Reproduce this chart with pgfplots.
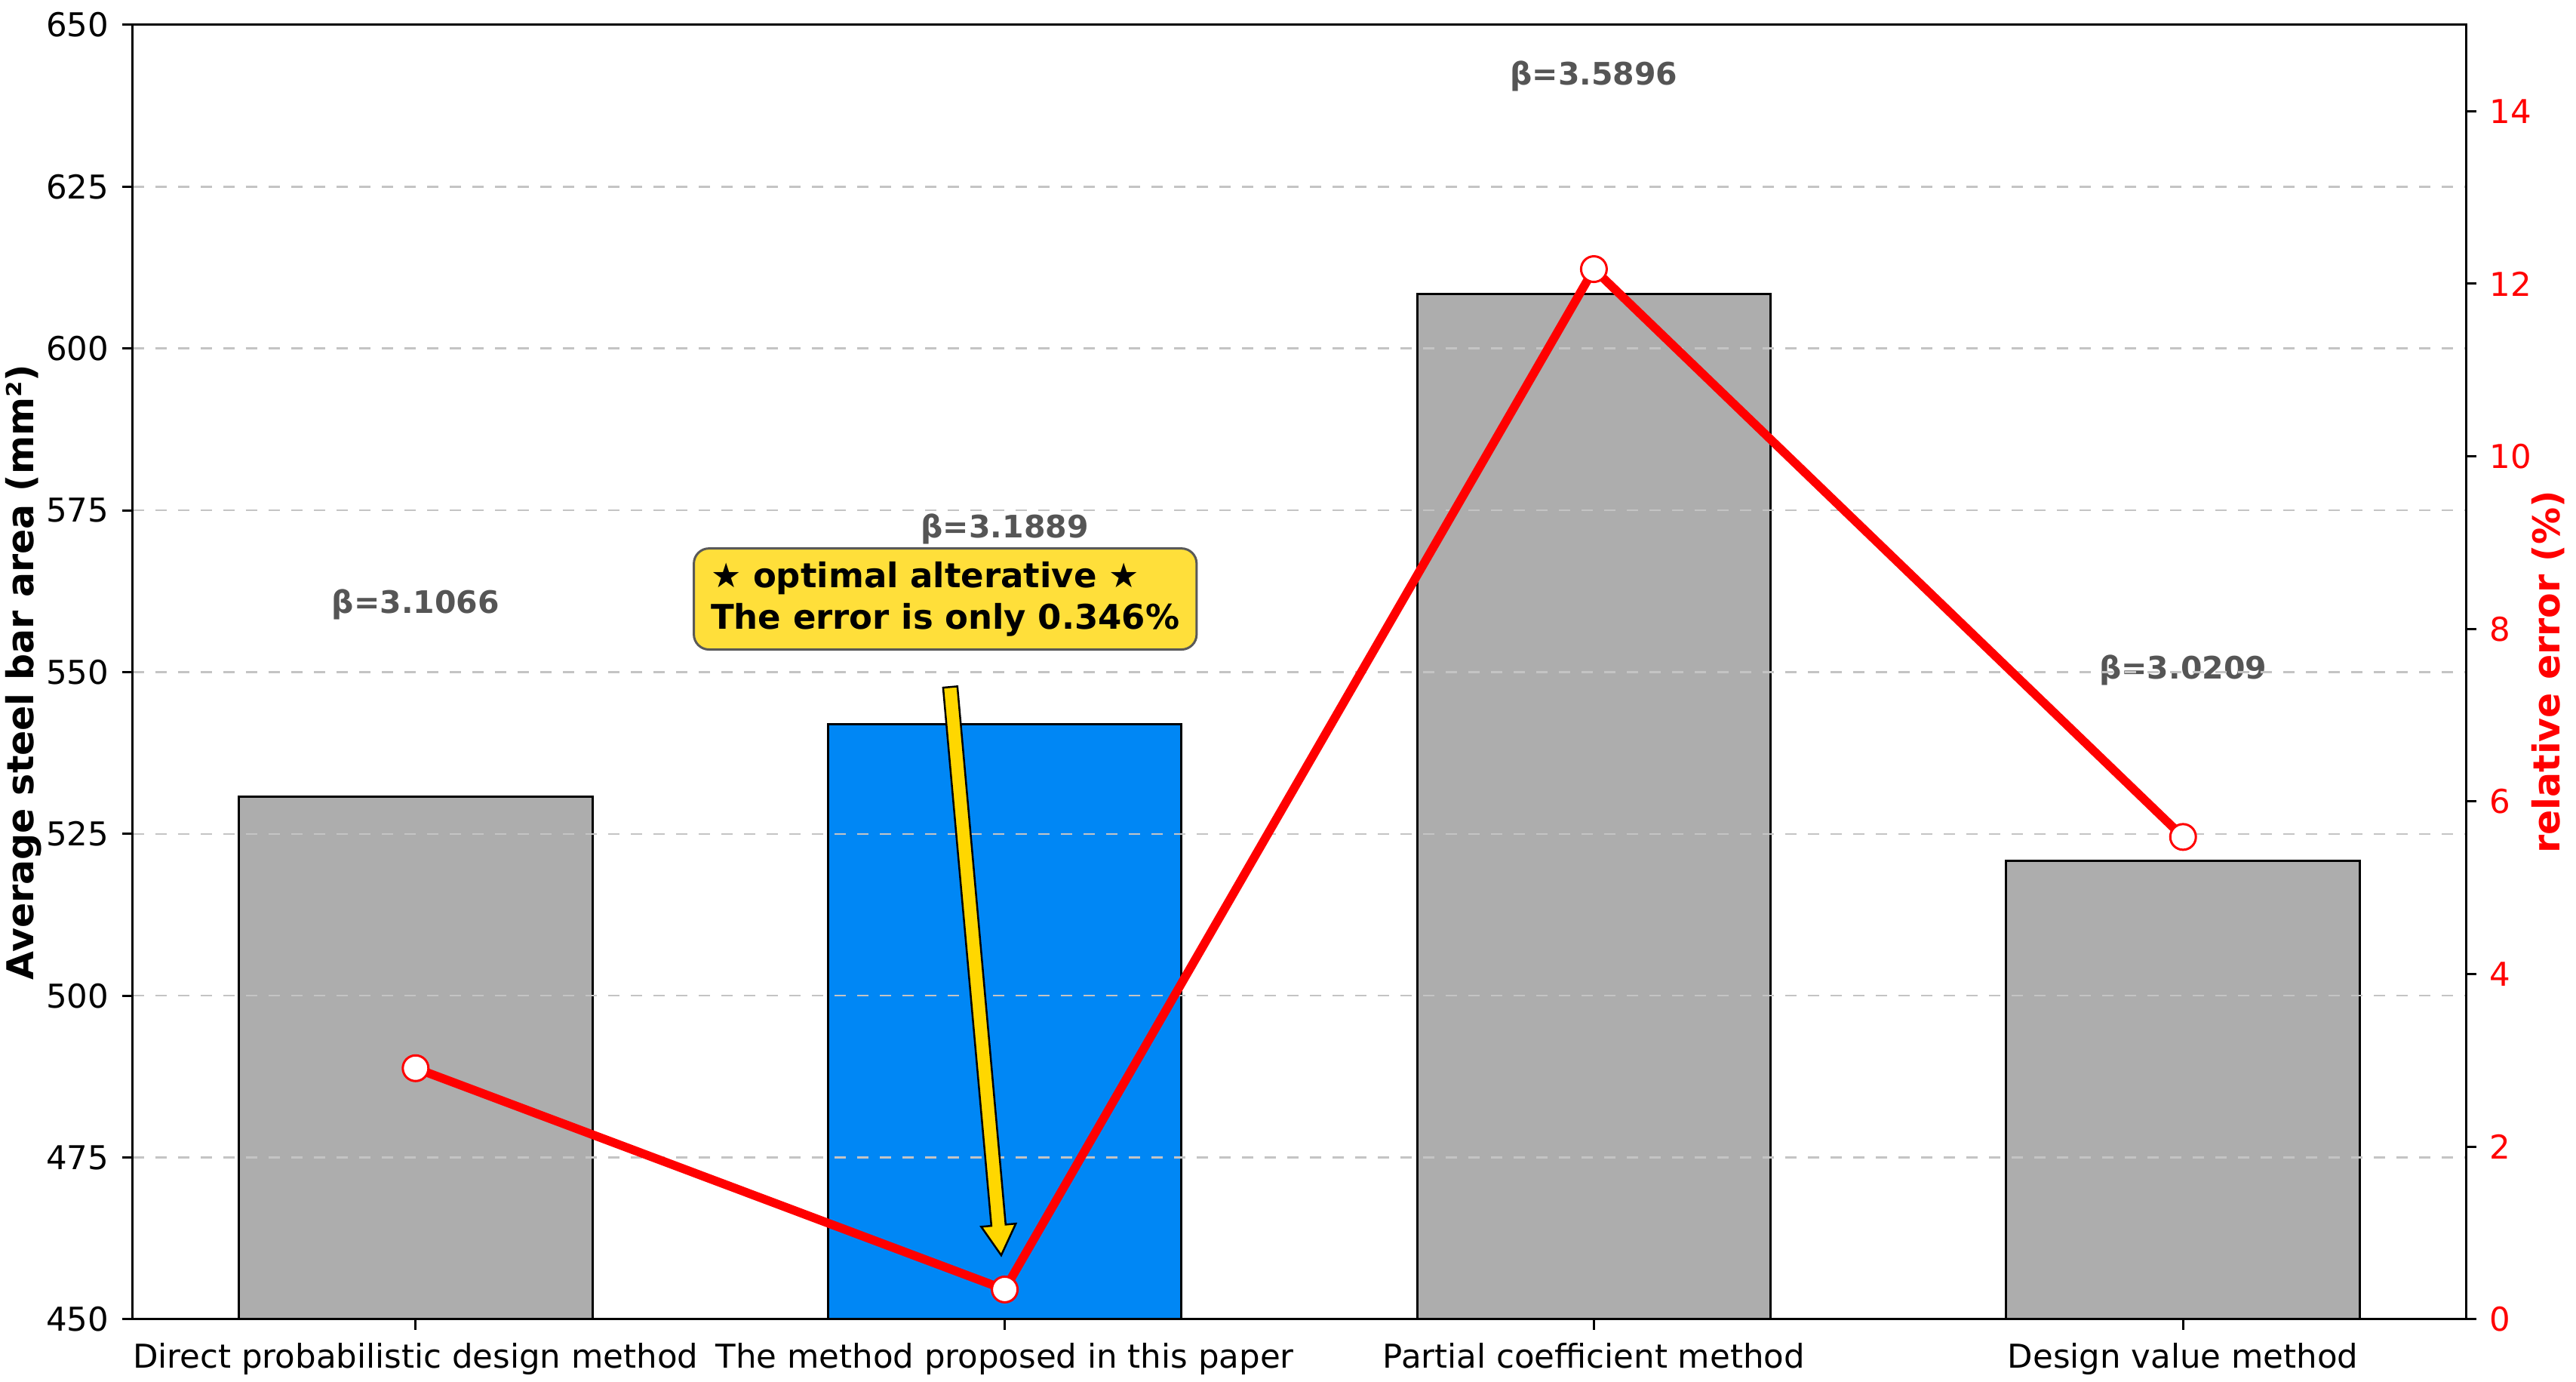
\documentclass[border=0pt]{standalone}
\usepackage{fontspec}
\setmainfont{DejaVu Sans}
\usepackage{pgfplots}
\pgfplotsset{compat=1.18}
\usetikzlibrary{calc}

\definecolor{bargray}{HTML}{ADADAD}
\definecolor{barblue}{HTML}{0087F5}
\definecolor{gridgray}{HTML}{C4C4C4}
\definecolor{betagray}{HTML}{555555}
\definecolor{boxyellow}{HTML}{FFDF3A}
\definecolor{arrowgold}{HTML}{FFD700}

\pgfplotsset{
  common/.style={
    width=618.4pt, height=343pt, scale only axis,
    xmin=-0.48, xmax=3.48,
    axis line style={line width=0.6pt},
    tick style={line width=0.6pt, black},
    major tick length=2.8pt,
    tick align=outside,
    /pgf/number format/assume math mode=true,
    tick label style={font=\fontsize{8.7}{10}\selectfont},
    label style={font=\fontsize{9.8}{11}\selectfont\bfseries},
  }
}

\begin{document}
\begin{tikzpicture}
\begin{axis}[common, name=main,
  ymin=450, ymax=650, ytick={450,475,...,650},
  xtick={0,1,2,3},
  xticklabels={Direct probabilistic design method,The method proposed in this paper,Partial coefficient method,Design value method},
  xtick pos=bottom, ytick pos=left,
  ymajorgrids, grid style={dashed, gridgray, line width=0.5pt},
  axis on top,
  ylabel={Average steel bar area (mm²)},
  ylabel style={at={(axis description cs:-0.047,0.5)}, anchor=center},
]
\addplot[ybar, bar width=0.6, bar shift=0pt, fill=bargray, draw=black, line width=0.6pt]
  coordinates {(0,530.7) (2,608.4) (3,520.8)};
\addplot[ybar, bar width=0.6, bar shift=0pt, fill=barblue, draw=black, line width=0.6pt]
  coordinates {(1,541.9)};
\begin{scope}[every node/.style={text=betagray, font=\fontsize{8.2}{9}\selectfont\bfseries}]
\node at (axis cs:0,560.4) {β=3.1066};
\node at (axis cs:1,572.1) {β=3.1889};
\node at (axis cs:2,642.1) {β=3.5896};
\node at (axis cs:3,550.3) {β=3.0209};
\end{scope}
\coordinate (boxc) at (axis cs:0.899,561.3);
\coordinate (arA) at (axis cs:0.9075,547.7);
\coordinate (arB) at (axis cs:0.994,459.9);
\end{axis}

\begin{axis}[common,
  ymin=0, ymax=15, ytick={0,2,...,14},
  axis x line=none, axis y line*=right,
  yticklabel style={red},
  ylabel={relative error (\%)},
  ylabel style={red, at={(axis description cs:1.0353,0.5)}, anchor=center},
]
\addplot[red, line width=2.3pt, mark=*, mark size=3.4pt,
  mark options={fill=white, draw=red, line width=0.6pt}]
  coordinates {(0,2.91) (1,0.346) (2,12.17) (3,5.59)};
\end{axis}

\coordinate (arC) at ($(arB)!8pt!(arA)$);
\filldraw[fill=arrowgold, draw=black, line width=0.5pt, line join=miter]
  ($(arA)!1.9pt!90:(arB)$) -- ($(arC)!1.9pt!90:(arB)$) -- ($(arC)!4.6pt!90:(arB)$)
  -- (arB) -- ($(arC)!4.6pt!-90:(arB)$) -- ($(arC)!1.9pt!-90:(arB)$)
  -- ($(arA)!1.9pt!-90:(arB)$) -- cycle;

\node[fill=boxyellow, draw=black!65, rounded corners=4pt, line width=0.6pt,
  align=left, font=\fontsize{9}{11}\selectfont\bfseries, inner xsep=4.5pt, inner ysep=3.5pt]
  at (boxc) {★ optimal alterative ★\\The error is only 0.346\%};

\pgfresetboundingbox
\path ($(main.south west)+(-35.2pt,-16.6pt)$) rectangle ($(main.north east)+(29.2pt,6.6pt)$);
\end{tikzpicture}
\end{document}
